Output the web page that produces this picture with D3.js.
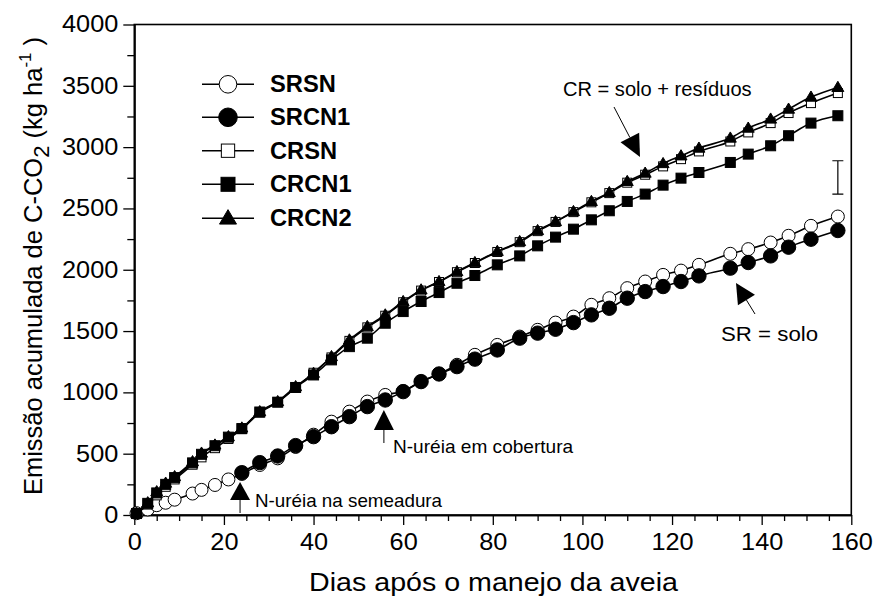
<!DOCTYPE html>
<html><head><meta charset="utf-8">
<script src="https://cdn.jsdelivr.net/npm/d3@7"></script>
<style>body{margin:0;background:#fff} svg{display:block}</style>
</head><body>
<script>
// ---- data ----
const days = [0.5,3,5,7,9,13,15,18,21,24,28,32,36,40,44,48,52,56,60,64,68,72,76,81,86,90,94,98,102,106,110,114,118,122,126,133,137,142,146,151,157];
const srsn = [15,45,80,100,125,175,205,245,290,335,408,462,555,655,761,843,925,979,1010,1088,1150,1225,1306,1387,1455,1510,1569,1618,1714,1768,1850,1904,1958,1993,2040,2130,2168,2222,2277,2358,2434];
const srcn1Days = days.slice(9);
const srcn1 = [345,427,481,566,639,720,802,884,938,1006,1088,1150,1210,1271,1346,1442,1483,1515,1569,1632,1686,1768,1822,1863,1904,1950,2013,2059,2113,2184,2249,2320];
const crsn = [10,85,160,230,290,410,470,545,620,700,835,920,1040,1160,1285,1420,1530,1625,1735,1830,1900,1980,2055,2145,2225,2315,2390,2470,2550,2625,2710,2775,2843,2902,2965,3046,3120,3196,3278,3359,3441];
const crcn1 = [12,95,180,250,305,425,495,565,635,705,840,920,1040,1142,1265,1373,1442,1564,1659,1741,1814,1890,1953,2040,2113,2195,2266,2331,2407,2481,2557,2617,2690,2747,2793,2875,2943,3011,3093,3196,3256];
const crcn2 = [15,100,190,260,313,435,505,571,639,710,843,925,1047,1156,1292,1428,1537,1632,1741,1836,1904,1985,2059,2150,2230,2320,2393,2475,2557,2630,2720,2788,2866,2929,2992,3074,3155,3229,3310,3408,3487];
const seriesNames = ["SRSN","SRCN1","CRSN","CRCN1","CRCN2"];
const xTicks = [0,20,40,60,80,100,120,140,160];
const yTicks = [0,500,1000,1500,2000,2500,3000,3500,4000];
const lsdDay = 157, lsdLow = 2617, lsdHigh = 2889;
const arrowSowDay = 23.6, arrowCovDay = 55.7;

// ---- layout ----
const W = 876, H = 597;
const L = 134.3, R = 851.3, T = 24.5, B = 515;
const FONT = "'Liberation Sans', Arial, sans-serif";
const SX = 1.1; // horizontal stretch of text in the original
const x = d3.scaleLinear().domain([0,160]).range([L,R]);
const y = d3.scaleLinear().domain([0,4000]).range([B,T]);

const svg = d3.select("body").append("svg").attr("width",W).attr("height",H)
  .style("font-family",FONT);

function stext(px, py, str, size, sx, anchor){
  return svg.append("text").attr("transform",`translate(${px},${py}) scale(${sx},1)`)
    .attr("text-anchor",anchor||"start").attr("font-size",size).text(str);
}

// frame
svg.append("rect").attr("x",L).attr("y",T).attr("width",R-L).attr("height",B-T)
  .attr("fill","none").attr("stroke","#000").attr("stroke-width",1.6);

// axes
const xMinor = d3.range(0,161,5).filter(v=>v%20!==0);
svg.append("g").attr("transform",`translate(0,${B})`)
  .call(d3.axisBottom(x).tickValues(xTicks).tickSize(10).tickSizeOuter(0).tickPadding(9).tickFormat(d3.format("d")));
svg.append("g").attr("transform",`translate(0,${B})`)
  .call(d3.axisBottom(x).tickValues(xMinor).tickSize(6).tickSizeOuter(0).tickFormat(""));
const yMinor = d3.range(250,4000,500);
svg.append("g").attr("transform",`translate(${L},0)`)
  .call(d3.axisLeft(y).tickValues(yTicks).tickSize(11).tickSizeOuter(0).tickPadding(5).tickFormat(d3.format("d")));
svg.append("g").attr("transform",`translate(${L},0)`)
  .call(d3.axisLeft(y).tickValues(yMinor).tickSize(7).tickSizeOuter(0).tickFormat(""));
svg.selectAll(".domain").attr("stroke","#000").attr("stroke-width",1.6);
svg.selectAll(".tick line").attr("stroke","#000").attr("stroke-width",1.3);
svg.selectAll(".tick text").each(function(){
  const t = d3.select(this);
  const tx = +t.attr("x")||0, ty = +t.attr("y")||0;
  t.attr("x",null).attr("y",null)
   .attr("transform",`translate(${tx},${ty}) scale(${SX},1)`)
   .attr("font-family",FONT).attr("font-size",23).attr("fill","#000");
});

// axis titles
stext(493.5, 591, "Dias após o manejo da aveia", 26, SX, "middle");
const yt = svg.append("text").attr("transform","translate(42,266) rotate(-90)")
  .attr("text-anchor","middle").attr("font-size",25.5);
yt.append("tspan").text("Emissão acumulada de C-CO");
yt.append("tspan").attr("font-size",22).attr("dy",7).text("2");
yt.append("tspan").attr("dy",-7).text(" (kg ha");
yt.append("tspan").attr("font-size",17).attr("dy",-11).text("-1");
yt.append("tspan").attr("dy",11).text(" )");

// series
const line = d3.line().x(d=>x(d[0])).y(d=>y(d[1])).curve(d3.curveMonotoneX);
const zip = (ds,vs)=>ds.map((d,i)=>[d,vs[i]]);
const series = [
  {name:seriesNames[0], data:zip(days,srsn), shape:"circle", fill:"#fff", size:6.5},
  {name:seriesNames[1], data:zip(srcn1Days,srcn1), shape:"circle", fill:"#000", size:7.2},
  {name:seriesNames[2], data:zip(days,crsn), shape:"square", fill:"#fff", size:9},
  {name:seriesNames[3], data:zip(days,crcn1), shape:"square", fill:"#000", size:10},
  {name:seriesNames[4], data:zip(days,crcn2), shape:"triangle", fill:"#000", size:12}
];
function drawMarker(g, shape, fill, s, cx, cy){
  if(shape==="circle"){
    g.append("circle").attr("cx",cx).attr("cy",cy).attr("r",s)
      .attr("fill",fill).attr("stroke","#000").attr("stroke-width",1);
  } else if(shape==="square"){
    g.append("rect").attr("x",cx-s/2).attr("y",cy-s/2).attr("width",s).attr("height",s)
      .attr("fill",fill).attr("stroke","#000").attr("stroke-width",1);
  } else {
    const h = s*0.85;
    g.append("path").attr("d",`M${cx},${cy-h*0.6}L${cx+s/2},${cy+h*0.4}L${cx-s/2},${cy+h*0.4}Z`)
      .attr("fill",fill).attr("stroke","#000").attr("stroke-width",1);
  }
}
series.forEach(sr=>{
  const g = svg.append("g");
  g.append("path").attr("d",line(sr.data)).attr("fill","none").attr("stroke","#000").attr("stroke-width",1.6);
  sr.data.forEach(d=>drawMarker(g, sr.shape, sr.fill, sr.size, x(d[0]), y(d[1])));
});

// legend
const legY = [84.3,117.3,150.7,184.3,218.3];
const legSize = [8.8,9.3,13.3,14,17];
series.forEach((sr,i)=>{
  const g = svg.append("g");
  g.append("line").attr("x1",202).attr("x2",254).attr("y1",legY[i]).attr("y2",legY[i])
    .attr("stroke","#000").attr("stroke-width",1.6);
  drawMarker(g, sr.shape, sr.fill, legSize[i], 228, legY[i]);
  stext(270, legY[i]+8, sr.name, 23, 1.03).attr("font-weight","bold");
});

// LSD bar
const lx = x(lsdDay);
svg.append("path").attr("d",`M${lx},${y(lsdLow)}V${y(lsdHigh)}M${lx-5.5},${y(lsdLow)}H${lx+5.5}M${lx-5.5},${y(lsdHigh)}H${lx+5.5}`)
  .attr("stroke","#000").attr("stroke-width",1.2).attr("fill","none");

// annotations
function arrow(x1,y1,tx,ty,len,wid){
  const dx=tx-x1, dy=ty-y1, d=Math.hypot(dx,dy), ux=dx/d, uy=dy/d;
  const bx=tx-ux*len, by=ty-uy*len;
  svg.append("line").attr("x1",x1).attr("y1",y1).attr("x2",bx).attr("y2",by)
    .attr("stroke","#000").attr("stroke-width",1);
  svg.append("path").attr("d",`M${tx},${ty}L${bx-uy*wid/2},${by+ux*wid/2}L${bx+uy*wid/2},${by-ux*wid/2}Z`).attr("fill","#000");
}
arrow(x(arrowSowDay), B-2, x(arrowSowDay), 482, 18, 20);
arrow(x(arrowCovDay), 443, x(arrowCovDay), 410, 20, 20);
arrow(614,107, 640,157, 22, 21);
arrow(755,314, 736,283, 20, 20);

stext(255, 507, "N-uréia na semeadura", 17.5, 1.075);
stext(393, 453, "N-uréia em cobertura", 17.5, 1.09);
stext(563, 96, "CR = solo + resíduos", 20.5, 0.98);
stext(721, 341, "SR = solo", 21, 1.06);
</script>
</body></html>
